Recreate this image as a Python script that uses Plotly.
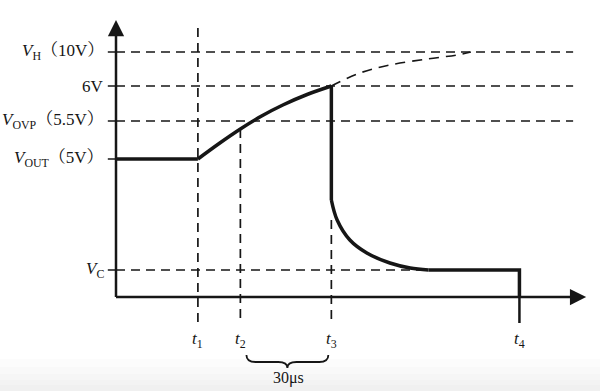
import plotly.graph_objects as go

# ---- schematic data (time in µs, voltage in schematic display units) ----
level_labels = ["<i>V</i><sub>H</sub>（10V）", "6V", "<i>V</i><sub>OVP</sub>（5.5V）",
                "<i>V</i><sub>OUT</sub>（5V）", "<i>V</i><sub>C</sub>"]
level_pos = [245, 211, 176, 138, 27]          # VH, 6V, VOVP, VOUT, VC
time_labels = ["<i>t</i><sub>1</sub>", "<i>t</i><sub>2</sub>", "<i>t</i><sub>3</sub>", "<i>t</i><sub>4</sub>"]
time_vals = [27, 41, 71, 133]
span_label = "30μs"

rise_t = [27, 34, 41, 48, 55, 63, 71]
rise_v = [138, 153.5, 168, 181, 192, 202.5, 211]
decay_t = [71, 72.9, 77.1, 82.7, 90.3, 97, 103]
decay_v = [97, 77, 57, 44, 34, 29, 27]
proj_t = [71, 80.4, 90.3, 102.5, 112.4, 117]
proj_v = [211, 224, 232, 238, 242, 245]

X_END = 155       # end of time axis arrow
Y_TOP = 277       # top of voltage axis arrow
X_DASH_END = 150.7
Y_BELOW = -26     # tick extension below time axis

INK = "#161616"
FONT = "Liberation Serif, Noto Serif CJK SC, Noto Sans CJK SC, serif"

VH, V6, VOVP, VOUT, VC = level_pos
t1, t2, t3, t4 = time_vals

fig = go.Figure()

def line(xs, ys, width=1.7, dash=None, shape="linear"):
    fig.add_trace(go.Scatter(x=xs, y=ys, mode="lines", hoverinfo="skip", showlegend=False,
                             line=dict(color=INK, width=width, dash=dash, shape=shape)))

DASH = "9px,6px"
# horizontal dashed reference lines
for v in [VH, V6, VOVP]:
    line([0, X_DASH_END], [v, v], dash=DASH)
line([0, decay_t[-1]], [VC, VC], dash=DASH)

# vertical dashed time markers
line([t1, t1], [269, Y_BELOW], dash=DASH)
line([t2, t2], [rise_v[2], Y_BELOW], dash=DASH)
line([t3, t3], [decay_v[0] - 20, Y_BELOW], dash=DASH)

# projected dashed curve toward VH
line(proj_t, proj_v, width=1.6, dash="10px,7px", shape="spline")

# y-axis small ticks
for v in level_pos:
    line([-2.7, 0], [v, v], width=1.5)

# the waveform
W = 3.5
line([0, t1], [VOUT, VOUT], width=W)
line(rise_t, rise_v, width=W, shape="spline")
line([t3, t3], [V6, decay_v[0]], width=W)
line(decay_t, decay_v, width=W, shape="spline")
line([decay_t[-1], t4, t4], [VC, VC, 0], width=W)
line([t4, t4], [0, Y_BELOW], width=2.5)

# axes
line([0, 0], [0, Y_TOP - 8], width=2.5)
line([0, X_END - 3], [0, 0], width=2.5)

ann = []
# arrowheads
ann.append(dict(x=0, y=Y_TOP, ax=0, ay=Y_TOP - 12, axref="x", ayref="y", xref="x", yref="y",
                text="", showarrow=True, arrowhead=2, arrowsize=1.3, arrowwidth=2.5, arrowcolor=INK))
ann.append(dict(x=X_END, y=0, ax=X_END - 5, ay=0, axref="x", ayref="y", xref="x", yref="y",
                text="", showarrow=True, arrowhead=2, arrowsize=1.3, arrowwidth=2.5, arrowcolor=INK))

for lab, v in zip(level_labels, level_pos):
    ann.append(dict(x=-3.3, y=v, xref="x", yref="y", text=lab, showarrow=False,
                    xanchor="right", yanchor="middle", font=dict(family=FONT, size=17, color=INK)))
for lab, t in zip(time_labels, time_vals):
    ann.append(dict(x=t, y=-43, xref="x", yref="y", text=lab, showarrow=False,
                    xanchor="center", yanchor="middle", font=dict(family=FONT, size=17, color=INK)))
ann.append(dict(x=(t2 + t3) / 2 + 1, y=-81, xref="x", yref="y", text=span_label, showarrow=False,
                xanchor="center", yanchor="middle", font=dict(family=FONT, size=16, color=INK)))

# brace under t2..t3
bx0, bx1 = t2 + 2, t3 - 1
bm = (bx0 + bx1) / 2
brace = (f"M {bx0},-58 Q {bx0},-65 {bx0+3},-65 L {bm-3},-65 Q {bm},-65 {bm},-71 "
         f"Q {bm},-65 {bm+3},-65 L {bx1-3},-65 Q {bx1},-65 {bx1},-58")

shapes = [dict(type="path", path=brace, xref="x", yref="y", line=dict(color=INK, width=1.8))]
# faint paper shading at bottom (scanned look)
for y0 in [-62, -70, -77, -83, -88]:
    shapes.append(dict(type="rect", xref="paper", yref="y", x0=0, x1=1, y0=-94, y1=y0,
                       fillcolor="rgba(0,0,0,0.012)", line=dict(width=0), layer="below"))

fig.update_layout(
    width=600, height=391, margin=dict(l=0, r=0, t=0, b=0),
    paper_bgcolor="white", plot_bgcolor="white",
    xaxis=dict(range=[-116 / 3.0333, 484 / 3.0333], visible=False, fixedrange=True),
    yaxis=dict(range=[-94, 297], visible=False, fixedrange=True),
    annotations=ann, shapes=shapes,
)

fig.write_html("out.html", config={"displayModeBar": False},
               post_script="document.body.style.margin='0';document.body.style.overflow='hidden';")
